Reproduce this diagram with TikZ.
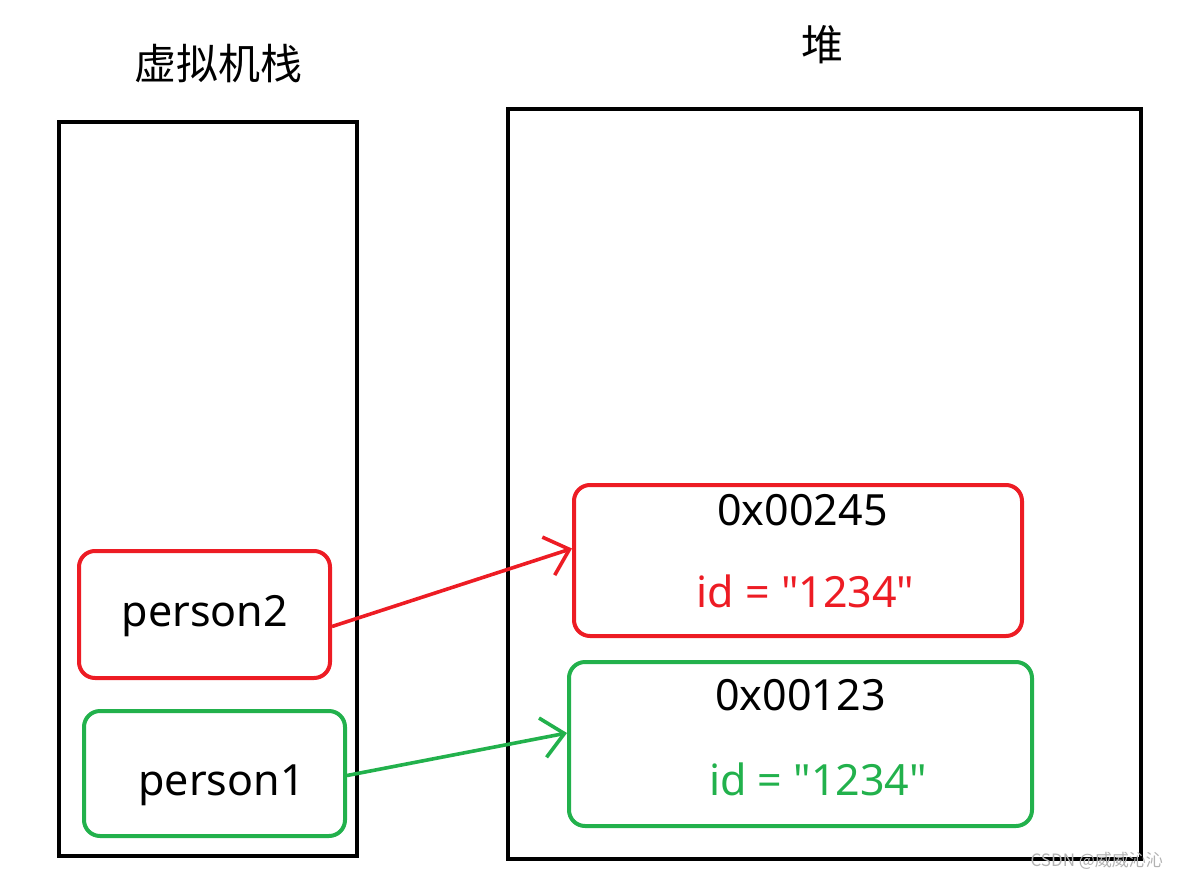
\documentclass[tikz,border=0pt]{standalone}
\usepackage{fontspec}
\setmainfont{Noto Sans}
\newfontfamily\cjk{Noto Sans CJK SC}
\usepackage{tikz}
\usetikzlibrary{arrows.meta}
\usetikzlibrary{positioning}
\definecolor{pred}{RGB}{237,28,36}
\definecolor{pgreen}{RGB}{34,177,76}
\tikzset{
    region/.style={
           rectangle,
           draw=black, line width=2pt,
           inner sep=0pt,
           },
}
\tikzset{
    ref/.style={
           rectangle,
           rounded corners=8pt,
           line width=2pt,
           inner sep=0pt,
           },
}
\tikzset{
    lbl/.style={
           inner sep=0pt,
           anchor=base,
           font=\fontsize{21.5pt}{24pt}\selectfont,
           },
}

\begin{document}
\begin{tikzpicture}[x=0.5pt,y=-0.5pt,>={Straight Barb[length=11pt,width=20pt]}]
 \useasboundingbox (0,0) rectangle (1185,879);

 \node[region,minimum width=149pt,minimum height=367pt] (stack) at (208,489) {};
 \node[region,minimum width=316.5pt,minimum height=375pt] (heap) at (824.5,484) {};

 \node[font=\cjk\fontsize{21pt}{24pt}\selectfont] (stacktitle) at (218,64) {虚拟机栈};
 \node[font=\cjk\fontsize{21pt}{24pt}\selectfont] (heaptitle) at (822,45) {堆};

 % references on the stack
 \node[ref,draw=pred,minimum width=125.5pt,minimum height=63.5pt] (person2) at (204.5,614.5) {};
 \node[lbl] (person2txt) at (205,626) {person2};

 \node[ref,draw=pgreen,minimum width=130.5pt,minimum height=62.5pt] (person1) at (214.5,773.5) {};
 \node[lbl] (person1txt) at (221.5,795) {person1};

 % objects in the heap
 \node[ref,draw=pred,minimum width=224pt,minimum height=75.5pt] (obj2) at (798,560.5) {};
 \node[lbl] (addr2) at (802.5,525) {0x00245};
 \node[lbl,text=pred] (id2) at (805.5,607) {id = \textquotedbl 1234\textquotedbl};

 \node[ref,draw=pgreen,minimum width=231.5pt,minimum height=82pt] (obj1) at (800.5,744) {};
 \node[lbl] (addr1) at (800.5,710) {0x00123};
 \node[lbl,text=pgreen] (id1) at (818,795) {id = \textquotedbl 1234\textquotedbl};

 \draw[->,pred,line width=1.8pt] ([yshift=-6pt]person2.east) -- ([yshift=6pt]obj2.west);
 \draw[->,pgreen,line width=1.8pt] ([yshift=-1pt]person1.east) -- ([yshift=5.5pt]obj1.west);

 \node[text=black!30,font=\cjk\fontsize{8.5pt}{10pt}\selectfont,anchor=east] (mark) at (1170,861) {CSDN @威威沁沁};

\end{tikzpicture}
\end{document}
